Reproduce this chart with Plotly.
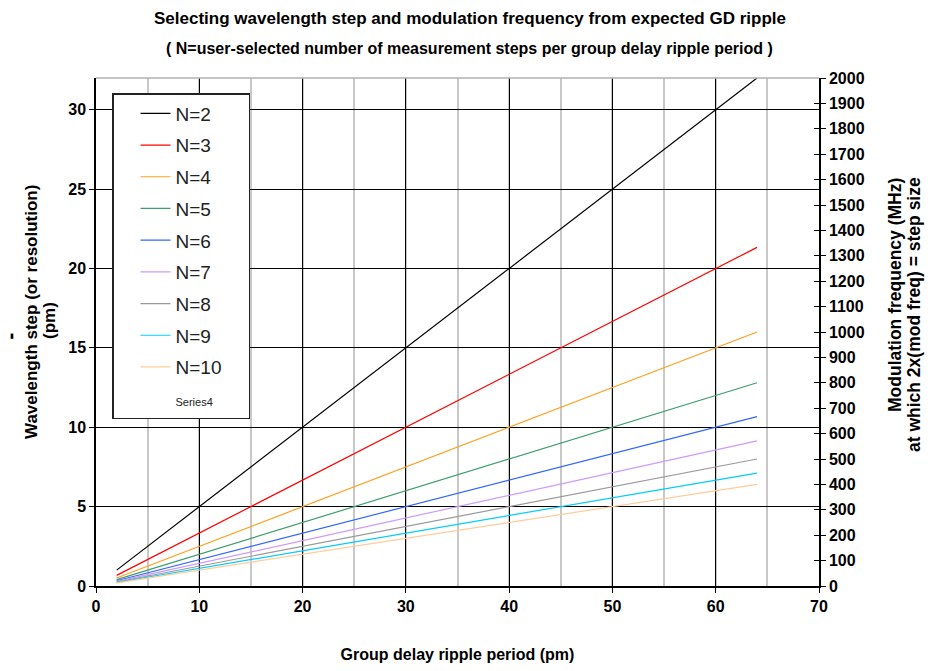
import plotly.graph_objects as go

# ---- data ----
ripple_period = [2, 10, 20, 30, 40, 50, 60, 64]
series_names = ["N=2", "N=3", "N=4", "N=5", "N=6", "N=7", "N=8", "N=9", "N=10"]
step_n2 = [1.0, 5.0, 10.0, 15.0, 20.0, 25.0, 30.0, 32.0]
step_n3 = [0.67, 3.33, 6.67, 10.0, 13.33, 16.67, 20.0, 21.33]
step_n4 = [0.5, 2.5, 5.0, 7.5, 10.0, 12.5, 15.0, 16.0]
step_n5 = [0.4, 2.0, 4.0, 6.0, 8.0, 10.0, 12.0, 12.8]
step_n6 = [0.33, 1.67, 3.33, 5.0, 6.67, 8.33, 10.0, 10.67]
step_n7 = [0.29, 1.43, 2.86, 4.29, 5.71, 7.14, 8.57, 9.14]
step_n8 = [0.25, 1.25, 2.5, 3.75, 5.0, 6.25, 7.5, 8.0]
step_n9 = [0.22, 1.11, 2.22, 3.33, 4.44, 5.56, 6.67, 7.11]
step_n10 = [0.2, 1.0, 2.0, 3.0, 4.0, 5.0, 6.0, 6.4]
series_values = [step_n2, step_n3, step_n4, step_n5, step_n6,
                 step_n7, step_n8, step_n9, step_n10]
series_colors = ["#000000", "#ff0000", "#ffa020", "#3c9e6c", "#3366ff",
                 "#cc99ff", "#999999", "#00ccff", "#ffcc99"]
extra_legend_name = "Series4"

x_ticks = [0, 10, 20, 30, 40, 50, 60, 70]
y_left_ticks = [0, 5, 10, 15, 20, 25, 30]
y_right_ticks = list(range(0, 2001, 100))

FAM = "Liberation Sans"
TICKFONT = dict(family=FAM, size=16, color="black", weight="bold")

# plot area position inside the 941x671 window (page has 8px body margin)
W, H = 941, 671
PL, PT, PW, PH = 96, 78, 723, 508


def px(x):
    return (x - PL) / PW


def py(y):
    return (PT + PH - y) / PH


fig = go.Figure()
for name, vals, col in zip(series_names, series_values, series_colors):
    fig.add_trace(go.Scatter(
        x=ripple_period, y=vals, mode="lines",
        name=name + "\u00a0\u00a0\u00a0\u00a0",
        line=dict(color=col, width=1.2), legendgroup=name))

# legend-only entry "Series4" (single point, nothing drawn)
fig.add_trace(go.Scatter(
    x=[ripple_period[0]], y=[step_n10[0]], mode="lines", legendgroup="s4",
    name='<span style="font-size:11px">' + extra_legend_name + '</span>',
    line=dict(color="rgba(0,0,0,0)", width=0), hoverinfo="skip"))

# carrier for right axis
fig.add_trace(go.Scatter(x=[], y=[], yaxis="y2", showlegend=False, hoverinfo="skip"))
# carriers for inner (cross) ticks
fig.add_trace(go.Scatter(x=[], y=[], yaxis="y3", showlegend=False, hoverinfo="skip"))
fig.add_trace(go.Scatter(x=[], y=[], yaxis="y4", showlegend=False, hoverinfo="skip"))

TITLE_FONT = dict(family=FAM, size=17, color="black", weight="bold")
RT_FONT = dict(family=FAM, size=17.5, color="black", weight="bold")

ml = PL - 8
mt = PT - 8
fig.update_layout(
    width=W, height=H,
    margin=dict(l=ml, r=W - ml - PW, t=mt, b=H - mt - PH),
    paper_bgcolor="white", plot_bgcolor="white",
    showlegend=True,
    legend=dict(
        x=px(112), y=py(93), xanchor="left", yanchor="top",
        bordercolor="#222222", borderwidth=1.5, bgcolor="white",
        font=dict(family=FAM, size=19, color="#222222"),
        indentation=22, tracegroupgap=4,
    ),
    xaxis=dict(
        range=[0, 70], tickvals=x_ticks, ticks="outside", ticklen=5,
        tickcolor="black", showline=True, linecolor="black", linewidth=1.5,
        showgrid=True, gridcolor="black", gridwidth=1,
        minor=dict(dtick=5, tick0=0, showgrid=True, gridcolor="#c8c8c8", gridwidth=1.5),
        tickfont=TICKFONT, zeroline=False,
        title=dict(text="Group delay ripple period (pm)", standoff=35,
                   font=dict(family=FAM, size=16, color="black", weight="bold")),
    ),
    yaxis=dict(
        range=[0, 32], tickvals=y_left_ticks, ticks="outside", ticklen=5,
        tickcolor="black", showline=True, linecolor="black", linewidth=1.5,
        showgrid=True, gridcolor="black", gridwidth=1, zeroline=False,
        tickfont=TICKFONT,
    ),
    yaxis2=dict(
        range=[0, 2000], tickvals=y_right_ticks, overlaying="y", side="right",
        ticks="outside", ticklen=5, tickcolor="black", showline=True,
        linecolor="black", linewidth=1.5, showgrid=False, zeroline=False,
        tickfont=TICKFONT,
    ),
    yaxis3=dict(
        range=[0, 32], tickvals=y_left_ticks, overlaying="y", side="left",
        ticks="inside", ticklen=5, tickcolor="black", showticklabels=False,
        showgrid=False, zeroline=False, showline=False,
    ),
    yaxis4=dict(
        range=[0, 2000], tickvals=y_right_ticks, overlaying="y", side="right",
        ticks="inside", ticklen=5, tickcolor="black", showticklabels=False,
        showgrid=False, zeroline=False, showline=False,
    ),
    shapes=[dict(type="line", xref="paper", yref="paper", x0=0, x1=1, y0=1, y1=1,
                 line=dict(color="#b0b0b0", width=1.5))],
    annotations=[
        dict(text="Selecting wavelength step and modulation frequency from expected GD ripple",
             xref="paper", yref="paper", x=px(470), y=py(19), showarrow=False,
             xanchor="center", yanchor="middle",
             font=dict(family=FAM, size=17, color="black", weight="bold")),
        dict(text="( N=user-selected number of measurement steps per group delay ripple period )",
             xref="paper", yref="paper", x=px(469), y=py(48), showarrow=False,
             xanchor="center", yanchor="middle",
             font=dict(family=FAM, size=16, color="black", weight="bold")),
        dict(text="Wavelength step (or resolution)",
             xref="paper", yref="paper", x=px(31), y=py(312), showarrow=False,
             textangle=-90, xanchor="center", yanchor="middle", font=TITLE_FONT),
        dict(text="(pm)",
             xref="paper", yref="paper", x=px(49), y=py(320), showarrow=False,
             textangle=-90, xanchor="center", yanchor="middle", font=TITLE_FONT),
        dict(text="Modulation frequency (MHz)",
             xref="paper", yref="paper", x=px(895), y=py(295), showarrow=False,
             textangle=-90, xanchor="center", yanchor="middle", font=RT_FONT),
        dict(text="at which 2x(mod freq) = step size",
             xref="paper", yref="paper", x=px(914), y=py(315), showarrow=False,
             textangle=-90, xanchor="center", yanchor="middle", font=RT_FONT),
        dict(text="\u25ae", xref="paper", yref="paper", x=px(12), y=py(336),
             showarrow=False, xanchor="center", yanchor="middle",
             font=dict(family="DejaVu Sans", size=7, color="black")),
    ],
)

fig.write_html("out.html")
